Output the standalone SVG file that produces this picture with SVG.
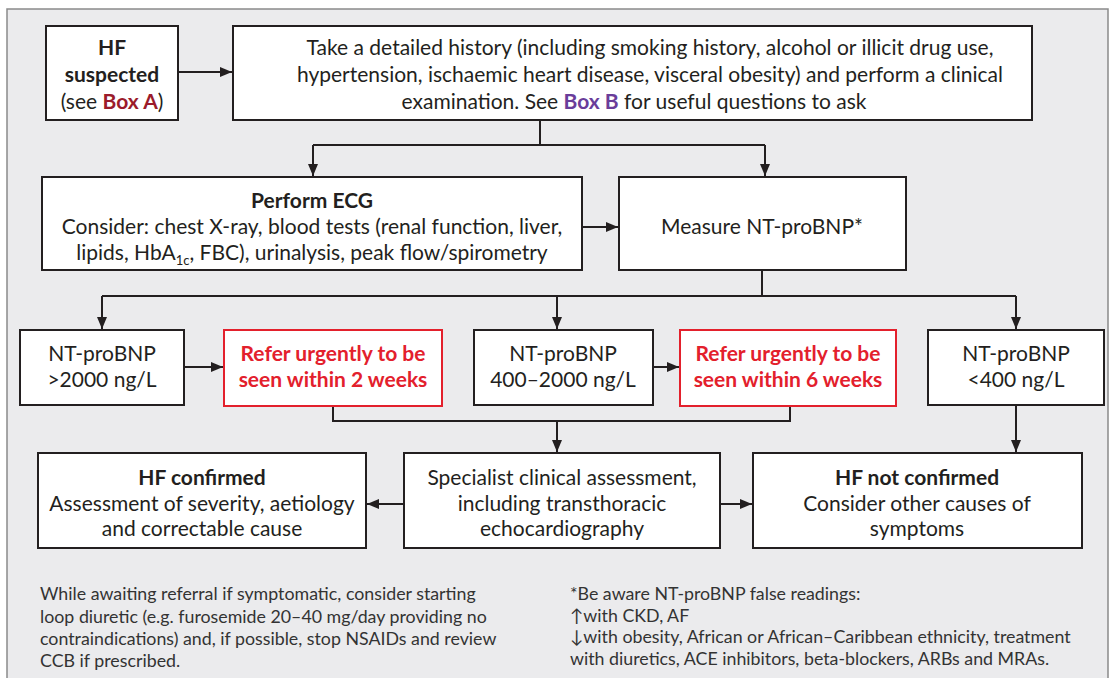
<svg xmlns="http://www.w3.org/2000/svg" width="1114" height="678" viewBox="0 0 1114 678">
<style>
.bg{fill:#ebebed;stroke:#8a8a8a;stroke-width:1.5}
.box{fill:#fff;stroke:#231f20;stroke-width:2}
.rbox{fill:#fff;stroke:#e3202c;stroke-width:2}
.t{font-family:Lato,"Open Sans","Liberation Sans",sans-serif;font-size:21px;fill:#231f20;text-anchor:middle}
.b{font-weight:bold}
.r{font-family:Lato,"Open Sans","Liberation Sans",sans-serif;font-size:21px;font-weight:bold;fill:#e3202c;text-anchor:middle}
.n{font-family:Lato,"Open Sans","Liberation Sans",sans-serif;font-size:17.8px;fill:#333}
.ln{fill:none;stroke:#231f20;stroke-width:2}
</style>
<defs>
<marker id="ah" viewBox="0 0 12 10" refX="12" refY="5" markerWidth="12" markerHeight="10" markerUnits="userSpaceOnUse" orient="auto">
<path d="M0,0 L12,5 L0,10 Z" fill="#231f20"/>
</marker>
</defs>
<rect class="bg" x="7" y="9" width="1101" height="680"/>

<g id="connectors">
<path class="ln" d="M178,72 H232" marker-end="url(#ah)"/>
<path class="ln" d="M540,120 V145 M313,145 H765"/>
<path class="ln" d="M313,145 V176" marker-end="url(#ah)"/>
<path class="ln" d="M765,145 V176" marker-end="url(#ah)"/>
<path class="ln" d="M582,227 H618" marker-end="url(#ah)"/>
<path class="ln" d="M762,270 V296 M102,296 H1016"/>
<path class="ln" d="M102,296 V329" marker-end="url(#ah)"/>
<path class="ln" d="M557,296 V329" marker-end="url(#ah)"/>
<path class="ln" d="M1016,296 V329" marker-end="url(#ah)"/>
<path class="ln" d="M184,367 H223" marker-end="url(#ah)"/>
<path class="ln" d="M653,367 H679" marker-end="url(#ah)"/>
<path class="ln" d="M333,406 V421 H790 V406"/>
<path class="ln" d="M557,421 V452" marker-end="url(#ah)"/>
<path class="ln" d="M1016,405 V452" marker-end="url(#ah)"/>
<path class="ln" d="M404,504 H367" marker-end="url(#ah)"/>
<path class="ln" d="M720,504 H752" marker-end="url(#ah)"/>
</g>

<g id="hf-suspected">
<rect class="box" x="46" y="26" width="132" height="94"/>
<text class="t b" x="112" y="55">HF</text>
<text class="t b" x="112" y="82">suspected</text>
<text class="t" x="112" y="109">(see <tspan class="b" fill="#9b1b2b">Box A</tspan>)</text>
</g>

<g id="history">
<rect class="box" x="233" y="26" width="799" height="94"/>
<text class="t" x="650" y="55">Take a detailed history (including smoking history, alcohol or illicit drug use,</text>
<text class="t" x="650" y="82">hypertension, ischaemic heart disease, visceral obesity) and perform a clinical</text>
<text class="t" x="634" y="109">examination. See <tspan class="b" fill="#6a3d9a">Box B</tspan> for useful questions to ask</text>
</g>

<g id="ecg">
<rect class="box" x="42" y="177" width="540" height="93"/>
<text class="t b" x="312" y="208">Perform ECG</text>
<text class="t" x="312" y="234">Consider: chest X-ray, blood tests (renal function, liver,</text>
<text class="t" x="312" y="260">lipids, HbA<tspan font-size="13" dy="5">1c</tspan><tspan dy="-5">, FBC), urinalysis, peak flow/spirometry</tspan></text>
</g>

<g id="measure">
<rect class="box" x="619" y="177" width="287" height="93"/>
<text class="t" x="762" y="234">Measure NT-proBNP*</text>
</g>

<g id="gt2000">
<rect class="box" x="20" y="330" width="164" height="75"/>
<text class="t" x="102" y="361">NT-proBNP</text>
<text class="t" x="102" y="387">&gt;2000 ng/L</text>
</g>

<g id="refer2">
<rect class="rbox" x="224" y="330" width="218" height="76"/>
<text class="r" x="333" y="361">Refer urgently to be</text>
<text class="r" x="333" y="387">seen within 2 weeks</text>
</g>

<g id="mid">
<rect class="box" x="474" y="330" width="179" height="75"/>
<text class="t" x="563" y="361">NT-proBNP</text>
<text class="t" x="563" y="387">400–2000 ng/L</text>
</g>

<g id="refer6">
<rect class="rbox" x="680" y="330" width="216" height="76"/>
<text class="r" x="788" y="361">Refer urgently to be</text>
<text class="r" x="788" y="387">seen within 6 weeks</text>
</g>

<g id="lt400">
<rect class="box" x="928" y="330" width="176" height="75"/>
<text class="t" x="1016" y="361">NT-proBNP</text>
<text class="t" x="1016" y="387">&lt;400 ng/L</text>
</g>

<g id="hf-confirmed">
<rect class="box" x="38" y="453" width="328" height="95"/>
<text class="t b" x="202" y="485">HF confirmed</text>
<text class="t" x="202" y="511">Assessment of severity, aetiology</text>
<text class="t" x="202" y="536">and correctable cause</text>
</g>

<g id="specialist">
<rect class="box" x="404" y="453" width="316" height="95"/>
<text class="t" x="562" y="485">Specialist clinical assessment,</text>
<text class="t" x="562" y="511">including transthoracic</text>
<text class="t" x="562" y="536">echocardiography</text>
</g>

<g id="hf-not">
<rect class="box" x="753" y="453" width="329" height="95"/>
<text class="t b" x="917" y="485">HF not confirmed</text>
<text class="t" x="917" y="511">Consider other causes of</text>
<text class="t" x="917" y="536">symptoms</text>
</g>

<g id="note-left">
<text class="n" x="40" y="600">While awaiting referral if symptomatic, consider starting</text>
<text class="n" x="40" y="623">loop diuretic (e.g. furosemide 20–40 mg/day providing no</text>
<text class="n" x="40" y="645">contraindications) and, if possible, stop NSAIDs and review</text>
<text class="n" x="40" y="667">CCB if prescribed.</text>
</g>

<g id="note-right">
<text class="n" x="570" y="600">*Be aware NT-proBNP false readings:</text>
<text class="n" x="570" y="622">↑with CKD, AF</text>
<text class="n" x="570" y="643">↓with obesity, African or African–Caribbean ethnicity, treatment</text>
<text class="n" x="570" y="665">with diuretics, ACE inhibitors, beta-blockers, ARBs and MRAs.</text>
</g>
</svg>
